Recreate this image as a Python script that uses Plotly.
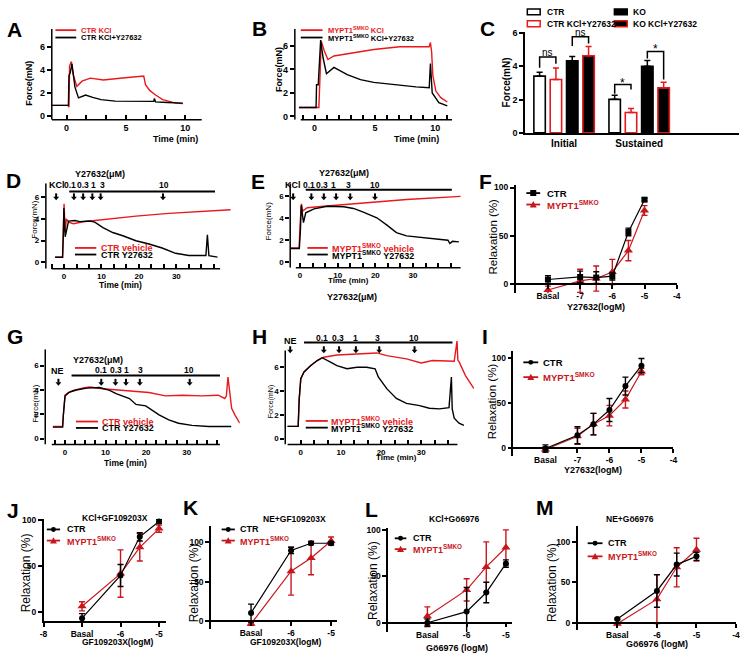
import plotly.graph_objects as go

W, H = 745, 660
FONT = "Arial, Liberation Sans, sans-serif"
RED = "#e8191c"
DRED = "#c8161d"

# ---------------- data ----------------
# A: CTR, KCl vs KCl+Y27632 (time in min, force in mN)
a_t_kcl = [-1.25, 0.1, 0.2, 0.25, 0.4, 0.55, 0.86, 1.3, 2.0, 3.1, 4.5, 6.4, 6.5, 6.65, 7.0, 7.5, 8.1, 9.2, 9.8]
a_f_kcl = [0.9, 0.9, 0.75, 4.3, 4.7, 3.6, 2.55, 3.0, 3.26, 3.1, 3.25, 3.45, 3.45, 2.7, 2.2, 1.8, 1.4, 1.1, 1.05]
a_t_y = [-1.25, 0.15, 0.2, 0.3, 0.45, 0.7, 1.0, 1.6, 2.2, 2.9, 4.1, 5.5, 7.35, 7.4, 7.5, 8.5, 9.8]
a_f_y = [0.9, 0.9, 3.5, 3.7, 4.5, 2.5, 1.55, 1.8, 1.6, 1.4, 1.27, 1.25, 1.25, 1.5, 1.2, 1.15, 1.1]

# B: MYPT1 SMKO
b_t_kcl = [-1.3, 0.35, 0.45, 0.55, 0.8, 1.1, 1.6, 2.95, 4.9, 7.05, 9.5, 9.6, 9.7, 9.8, 10.05, 10.46, 11.0]
b_f_kcl = [0.76, 0.76, 3.5, 6.4, 5.6, 4.85, 5.15, 5.38, 5.7, 5.94, 5.94, 6.3, 5.5, 3.5, 2.16, 1.6, 1.23]
b_t_y = [-1.3, 0.12, 0.16, 0.3, 0.5, 0.7, 0.98, 1.6, 2.7, 3.8, 4.9, 6.5, 8.4, 9.5, 9.6, 9.75, 10.3, 11.0]
b_f_y = [0.76, 0.76, 2.7, 2.7, 6.5, 5.0, 3.64, 4.18, 3.56, 3.13, 2.9, 2.7, 2.52, 2.44, 4.5, 2.0, 1.18, 0.9]

# C: bar chart
c_groups = ["Initial", "Sustained"]
c_ctr = [3.4, 2.01]
c_ctr_err = [0.23, 0.24]
c_ctr_y = [3.2, 1.22]
c_ctr_y_err = [0.69, 0.24]
c_ko = [4.32, 3.99]
c_ko_err = [0.26, 0.35]
c_ko_y = [4.62, 2.7]
c_ko_y_err = [0.55, 0.34]

# D: CTR, KCl then cumulative Y27632
d_t_veh = [-2.4, -0.4, -0.2, 0.0, 0.3, 0.6, 1.2, 2.5, 5.1, 10.4, 19.2, 28.0, 36.9, 44.5]
d_f_veh = [0.46, 0.46, 3.0, 5.4, 2.8, 4.0, 3.7, 3.56, 3.74, 3.96, 4.26, 4.51, 4.72, 4.85]
d_t_y = [-2.4, -0.4, -0.2, -0.05, 0.3, 1.2, 2.9, 4.2, 6.9, 8.2, 10.4, 13.0, 15.7, 19.2, 22.7, 26.2, 29.8,
         33.3, 37.9, 38.3, 38.7, 41.0]
d_f_y = [0.46, 0.46, 2.5, 5.0, 2.35, 3.8, 3.85, 3.75, 3.8, 3.7, 3.2, 2.74, 2.44, 1.98, 1.68, 1.31, 0.82,
         0.61, 0.61, 2.53, 0.6, 0.46]

# E: MYPT1 SMKO, KCl then cumulative Y27632
e_t_veh = [-2.6, -0.26, 0.0, 0.36, 0.7, 1.9, 6.3, 12.5, 19.5, 28.3, 42.7]
e_f_veh = [1.3, 1.3, 3.5, 5.32, 4.66, 4.96, 5.1, 5.26, 5.47, 5.71, 6.0]
e_t_y = [-2.6, -0.2, 0.1, 0.3, 0.9, 1.5, 3.7, 7.2, 11.6, 14.2, 16.8, 20.4, 23.0, 25.6, 28.3, 33.5, 38.8,
         39.3, 39.8, 40.5, 42.2]
e_f_y = [1.25, 1.25, 3.0, 5.2, 3.6, 4.5, 4.86, 5.1, 5.05, 4.9, 4.57, 4.05, 3.4, 2.7, 2.4, 2.2, 2.02,
         2.0, 1.7, 1.9, 1.85]

# G: CTR, NE then cumulative Y27632
g_t_veh = [-3.0, -0.6, -0.4, 0.0, 0.8, 2.0, 4.5, 6.1, 9.3, 12.6, 17.5, 20.7, 24.8, 28.9, 33.7, 37.8, 39.4,
           39.8, 40.2, 41.1, 41.9, 43.1]
g_f_veh = [1.0, 1.0, 2.0, 3.57, 3.79, 3.97, 4.16, 4.24, 4.1, 4.0, 3.87, 3.79, 3.52, 3.57, 3.52, 3.57, 3.3,
           3.5, 5.06, 2.49, 1.95, 1.27]
g_t_y = [-3.0, -0.6, -0.4, 0.0, 1.0, 2.8, 5.3, 8.5, 11.0, 12.6, 15.9, 17.5, 19.9, 21.5, 23.2, 25.6, 28.0,
         31.3, 35.4, 41.0]
g_f_y = [0.95, 0.95, 2.0, 3.5, 3.8, 4.0, 4.15, 4.2, 3.97, 3.7, 3.3, 2.81, 2.7, 2.35, 1.95, 1.54, 1.27,
         1.09, 1.0, 1.0]

# H: MYPT1 SMKO, NE then cumulative Y27632
h_t_veh = [-3.3, -0.65, -0.4, 0.0, 0.8, 2.5, 4.1, 5.7, 9.0, 13.1, 18.9, 21.4, 26.3, 30.0, 32.8, 38.2, 38.9,
           39.1, 39.4, 41.0, 43.1]
h_f_veh = [1.03, 1.03, 3.3, 5.04, 5.6, 6.14, 6.56, 6.84, 7.03, 7.1, 7.2, 6.97, 6.7, 6.36, 6.56, 6.5, 8.2,
           6.6, 6.47, 5.3, 4.2]
h_t_y = [-3.3, -0.65, -0.4, 0.0, 0.8, 2.5, 4.1, 5.3, 7.4, 9.0, 11.5, 14.0, 16.4, 18.5, 19.3, 21.4, 23.8,
         26.3, 29.6, 32.0, 34.5, 36.9, 37.5, 37.7, 38.2, 39.4, 40.6]
h_f_y = [1.03, 1.03, 3.3, 5.04, 5.6, 6.14, 6.56, 6.8, 6.42, 6.14, 5.87, 6.0, 6.0, 5.87, 5.18, 4.2, 3.38,
         2.96, 2.77, 2.55, 2.5, 2.6, 5.18, 2.5, 1.72, 1.3, 1.11]

# dose-response (log M; basal plotted one decade below the lowest dose)
fi_dose = [-8, -7, -6.5, -6, -5.5, -5]
f_ctr = [4.8, 7.4, 6.8, 8.2, 54, 87.4]
f_ctr_err = [4, 6, 6, 4, 4, 1.5]
f_ko = [-6.1, 3.4, 5.8, 12.6, 34.7, 76.2]
f_ko_err = [4, 12, 13, 13, 10.5, 5]
i_ctr = [-0.7, 14, 26.5, 42.3, 69.1, 91.9]
i_ctr_err = [4, 9.5, 12, 12.8, 10, 8]
i_ko = [-1.8, 12.9, 26.5, 36, 54, 85.3]
i_ko_err = [3, 9, 12, 11.5, 9.5, 3.5]

jm_dose = [-7, -6, -5.5, -5]
j_ctr = [-7.2, 39.6, 82, 98.9]
j_ctr_err = [5, 12, 4.5, 2]
j_ko = [5.8, 41.7, 70.5, 91]
j_ko_err = [5, 26, 15, 4]
k_ctr = [10.7, 88.9, 97.9, 97.9]
k_ctr_err = [11, 4, 2, 2]
k_ko = [-2.9, 63, 79.4, 100.8]
k_ko_err = [2, 30, 21, 5]
l_ctr = [0, 12, 32.6, 63.8]
l_ctr_err = [4, 26, 11, 4]
l_ko = [7.1, 35.4, 60.2, 81.2]
l_ko_err = [10, 12, 27, 19]
m_ctr = [5.2, 39.5, 71.8, 81.9]
m_ctr_err = [1, 20, 14, 5]
m_ko = [-0.8, 29.4, 68.5, 90]
m_ko_err = [1, 30, 24, 14]

# dose labels above the traces
y_doses = ["0.1", "0.3", "1", "3", "10"]
force_ticks = [0, 2, 4, 6]
relax_ticks = [0, 50, 100]

# ---------------- helpers ----------------
fig = go.Figure()
axes = {}
shapes = []
anns = []


def ids(i):
    s = "" if i == 1 else str(i)
    return "x" + s, "y" + s, "xaxis" + s, "yaxis" + s


def dx(l, r):
    return [l / W, r / W]


def dy(b, t):
    return [1 - b / H, 1 - t / H]


def tfont(size=9, bold=True):
    return dict(family=FONT, size=size, color="black", weight="bold" if bold else "normal")


def txt(x, y, s, size=9, color="black", bold=True, angle=0, xanchor="center"):
    anns.append(dict(x=x / W, y=1 - y / H, xref="paper", yref="paper", text=s, showarrow=False,
                     font=dict(family=FONT, size=size, color=color, weight="bold" if bold else "normal"),
                     textangle=angle, xanchor=xanchor, yanchor="middle"))


def pline(x0, y0, x1, y1, color="black", width=1.5):
    shapes.append(dict(type="line", xref="paper", yref="paper", x0=x0 / W, y0=1 - y0 / H,
                       x1=x1 / W, y1=1 - y1 / H, line=dict(color=color, width=width)))


def prect(x0, y0, x1, y1, fill, line):
    shapes.append(dict(type="rect", xref="paper", yref="paper", x0=x0 / W, y0=1 - y0 / H,
                       x1=x1 / W, y1=1 - y1 / H, fillcolor=fill, line=dict(color=line, width=1.5)))


def ppath(pts, fill):
    p = "M " + " L ".join("%f,%f" % (x / W, 1 - y / H) for x, y in pts) + " Z"
    shapes.append(dict(type="path", xref="paper", yref="paper", path=p, fillcolor=fill, line=dict(width=0)))


def arrow(x, ytip):
    # small filled down arrow: stem + head
    pline(x, ytip - 7, x, ytip - 3, "black", 2)
    ppath([(x - 3, ytip - 3.5), (x + 3, ytip - 3.5), (x, ytip)], "black")


def leg(x0, x1, y, color, text, tx, size=9, marker=None):
    pline(x0, y, x1, y, color, 1.8)
    cx = (x0 + x1) / 2
    if marker == "square":
        prect(cx - 2.3, y - 2.3, cx + 2.3, y + 2.3, color, color)
    elif marker == "circle":
        shapes.append(dict(type="circle", xref="paper", yref="paper", x0=(cx - 2.5) / W, x1=(cx + 2.5) / W,
                           y0=1 - (y + 2.5) / H, y1=1 - (y - 2.5) / H, fillcolor=color, line=dict(width=0)))
    elif marker == "triangle":
        ppath([(cx - 3.5, y + 3), (cx + 3.5, y + 3), (cx, y - 3.5)], color)
    txt(tx, y, text, size=size, color=color, xanchor="left")


def force_panel(i, xpx, ypx, xr, yr, xline, yline, xtv, minor_tv, ysize=9):
    xa, ya, xk, yk = ids(i)
    axes[xk] = dict(domain=dx(*xpx), range=xr, anchor=ya, showline=False, showgrid=False, zeroline=False,
                    tickvals=xtv, ticks="inside", ticklen=5, tickwidth=1.5, tickcolor="black",
                    tickfont=tfont(ysize), ticklabelstandoff=1,
                    minor=dict(tickvals=minor_tv, ticks="inside", ticklen=5, tickwidth=1.5, tickcolor="black"))
    axes[yk] = dict(domain=dy(*ypx), range=yr, anchor=xa, showline=False, showgrid=False, zeroline=False,
                    tickvals=force_ticks, ticks="outside", ticklen=4, tickwidth=1.5, tickcolor="black",
                    tickfont=tfont(ysize))
    shapes.append(dict(type="line", xref=xa, yref=ya + " domain", x0=xline[0], x1=xline[1], y0=0, y1=0,
                       line=dict(color="black", width=1.5)))
    shapes.append(dict(type="line", xref=xa + " domain", yref=ya, x0=0, x1=0, y0=yline[0], y1=yline[1],
                       line=dict(color="black", width=1.5)))


def force_trace(i, t, f, color):
    xa, ya, _, _ = ids(i)
    fig.add_trace(go.Scatter(x=t, y=f, mode="lines", line=dict(color=color, width=1.4),
                             xaxis=xa, yaxis=ya, showlegend=False))


def dose_panel(i, xpx, ypx, xr, yr, tv, tt, zero_px=None):
    xa, ya, xk, yk = ids(i)
    xd = dict(domain=dx(*xpx), range=xr, showline=True, linecolor="black", linewidth=1.5, showgrid=False,
              zeroline=False, tickvals=tv, ticktext=tt, ticks="outside", ticklen=4, tickwidth=1.5,
              tickcolor="black", tickfont=tfont(8.5))
    if zero_px is None:
        xd.update(anchor=ya)
    else:
        xd.update(anchor="free", position=1 - zero_px / H)
    axes[xk] = xd
    axes[yk] = dict(domain=dy(*ypx), range=yr, anchor=xa, showline=True, linecolor="black", linewidth=1.5,
                    showgrid=False, zeroline=False, tickvals=relax_ticks, ticks="outside", ticklen=4,
                    tickwidth=1.5, tickcolor="black", tickfont=tfont(8.5))


def dose_trace(i, x, y, err, color, symbol, size):
    xa, ya, _, _ = ids(i)
    fig.add_trace(go.Scatter(x=x, y=y, mode="lines+markers", line=dict(color=color, width=1.2),
                             marker=dict(symbol=symbol, size=size, color=color),
                             error_y=dict(type="data", array=err, color=color, thickness=1.4, width=3),
                             xaxis=xa, yaxis=ya, showlegend=False, cliponaxis=False))


# ---------------- A ----------------
force_panel(1, (48.3, 200), (117.3, 25), [-1.25, 11.4], [-0.34, 7.55], [-1.25, 11.4], [-0.34, 7.55],
            [0, 5, 10], [k * 5 / 3 for k in range(0, 7)])
force_trace(1, a_t_kcl, a_f_kcl, RED)
force_trace(1, a_t_y, a_f_y, "black")
leg(52, 73, 26.5, RED, "CTR KCl", 76, 7.5)
leg(52, 73, 34, "black", "CTR KCl+Y27632", 76, 7.5)
txt(25, 80, "Force(mN)", 9, angle=-90)
txt(173, 137, "Time (min)", 9)

# ---------------- B ----------------
force_panel(2, (294, 453), (117.3, 25), [-1.64, 11.4], [-0.28, 7.48], [-1.15, 11.4], [-0.28, 7.48],
            [0, 5, 10], list(range(-1, 12)))
force_trace(2, b_t_kcl, b_f_kcl, RED)
force_trace(2, b_t_y, b_f_y, "black")
leg(300, 322, 26.5, RED, "MYPT1<sup>SMKO</sup> KCl", 325, 7.5)
leg(300, 322, 34, "black", "MYPT1<sup>SMKO</sup> KCl+Y27632", 325, 7.5)
txt(278, 67, "Force(mN)", 9, angle=-90)
txt(417, 137, "Time (min)", 9)

# ---------------- C ----------------
axes["xaxis3"] = dict(domain=dx(526.7, 743), range=[-0.52, 2.33], anchor="y3", showline=True,
                      linecolor="black", linewidth=1.5, showgrid=False, zeroline=False, ticks="",
                      tickfont=tfont(10))
axes["yaxis3"] = dict(domain=dy(130.7, 28.3), range=[0, 6.05], anchor="x3", showline=True, linecolor="black",
                      linewidth=1.5, showgrid=False, zeroline=False, tickvals=[0, 2, 4, 6], ticks="outside",
                      ticklen=4, tickwidth=1.5, tickcolor="black", tickfont=tfont(9))
bar_specs = [
    ("CTR", c_ctr, c_ctr_err, "white", "black", "black"),
    ("CTR KCl+Y27632", c_ctr_y, c_ctr_y_err, "white", RED, RED),
    ("KO", c_ko, c_ko_err, "black", "black", "black"),
    ("KO KCl+Y27632", c_ko_y, c_ko_y_err, "black", RED, RED),
]
for name, vals, err, fill, edge, ecol in bar_specs:
    fig.add_trace(go.Bar(x=c_groups, y=vals, name=name, marker=dict(color=fill, line=dict(color=edge, width=1.6)),
                         error_y=dict(type="data", array=err, arrayminus=[0, 0], symmetric=False, color=ecol,
                                      thickness=1.5, width=3),
                         xaxis="x3", yaxis="y3", showlegend=False))
off = [-0.326, -0.109, 0.109, 0.326]
brackets = [(0 + off[0], 0 + off[1], 4.54, 3.9, 4.15, "ns", 4.83),
            (0 + off[2], 0 + off[3], 5.76, 5.2, 5.35, "ns", 6.0),
            (1 + off[0], 1 + off[1], 2.9, 2.35, 2.6, "*", 3.02),
            (1 + off[2], 1 + off[3], 4.88, 4.45, 3.2, "*", 5.0)]
for xl, xr_, top, bl, br, lab, ty in brackets:
    shapes.append(dict(type="path", xref="x3", yref="y3",
                       path="M %f,%f L %f,%f L %f,%f L %f,%f" % (xl, bl, xl, top, xr_, top, xr_, br),
                       line=dict(color="black", width=1.5)))
    anns.append(dict(x=(xl + xr_) / 2, y=ty, xref="x3", yref="y3", text=lab, showarrow=False,
                     yanchor="middle", font=dict(family=FONT, size=10 if lab == "ns" else 12, color="black")))
prect(529, 5, 542, 11, "white", "black")
txt(547, 8, "CTR", 8.5, xanchor="left")
prect(529, 17, 542, 23, "white", RED)
txt(547, 20, "CTR KCl+Y27632", 8.5, xanchor="left")
prect(617, 5, 630, 11, "black", "black")
txt(634, 8, "KO", 8.5, xanchor="left")
prect(617, 17, 630, 23, "black", RED)
txt(634, 20, "KO KCl+Y27632", 8.5, xanchor="left")
txt(508, 80, "Force(mN)", 10, angle=-90)

# ---------------- D ----------------
force_panel(4, (42.3, 231.7), (268.3, 181.7), [-4.87, 45.2], [-0.6, 7.3], [-3.3, 41.7], [-0.6, 7.3],
            [0, 10, 20, 30], [k * 10 / 3 for k in range(-1, 13)], 8)
force_trace(4, d_t_veh, d_f_veh, RED)
force_trace(4, d_t_y, d_f_y, "black")
leg(71.7, 93.3, 247.3, RED, "CTR vehicle", 96, 9)
leg(71.7, 93.3, 254, "black", "CTR Y27632", 96, 9)
txt(30, 218, "Force(mN)", 8, bold=False, angle=-90)
txt(118, 285, "Time (min)", 8.5)
txt(97, 172.7, "Y27632(μM)", 9)
pline(66, 190, 213.3, 190, "black", 2)
txt(53.3, 184, "KCl", 9)
for x, s in zip([66.7, 80, 90, 99.3, 161.7], y_doses):
    txt(x, 184, s, 8.5)
for x in [52.7, 70.7, 80, 89.3, 97.7, 160.7]:
    arrow(x, 199)

# ---------------- E ----------------
force_panel(5, (289.3, 461.7), (267.3, 181.7), [-2.63, 42.7], [-0.5, 7.2], [-1.13, 42.7], [-0.5, 7.2],
            [0, 10, 20, 30], [k * 10 / 3 for k in range(0, 13)], 8)
force_trace(5, e_t_veh, e_f_veh, RED)
force_trace(5, e_t_y, e_f_y, "black")
leg(306.7, 327.3, 247.3, RED, "MYPT1<sup>SMKO</sup> vehicle", 330, 9)
leg(306.7, 327.3, 254, "black", "MYPT1<sup>SMKO</sup> Y27632", 330, 9)
txt(268.3, 220, "Force(mN)", 8, bold=False, angle=-90)
txt(348.3, 280, "Time (min)", 8)
txt(343.3, 171.7, "Y27632(μM)", 9)
txt(351.7, 297, "Y27632(μM)", 9)
pline(305, 188.3, 452.7, 188.3, "black", 2)
txt(291.7, 184, "KCl", 9)
for x, s in zip([308.3, 321, 333.3, 348.3, 375], y_doses):
    txt(x, 184, s, 8.5)
for x in [292.3, 310.7, 323.3, 335.7, 350, 375]:
    arrow(x, 199)

# ---------------- F ----------------
dose_panel(6, (517.3, 680), (293.3, 183.3), [-9.0, -4], [-9.5, 102.8], [-8, -7, -6, -5, -4],
           ["Basal", "-7", "-6", "-5", "-4"], zero_px=284)
dose_trace(6, fi_dose, f_ko, f_ko_err, DRED, "triangle-up", 8)
dose_trace(6, fi_dose, f_ctr, f_ctr_err, "black", "square", 6)
leg(528, 542, 191.7, "black", "CTR", 546.7, 9.5, "square")
leg(528, 542, 203.3, DRED, "MYPT1<sup>SMKO</sup>", 546.7, 9.5, "triangle")
txt(494, 236, "Relaxation (%)", 11.5, bold=False, angle=-90)
txt(598.3, 307, "Y27632(logM)", 9)

# ---------------- G ----------------
force_panel(7, (41.7, 238.3), (446.7, 350), [-4.88, 43.1], [-0.49, 7.35], [-3.27, 38.2], [-0.49, 7.35],
            [0, 10, 20, 30], [k * 2.5 for k in range(-1, 16)], 8)
force_trace(7, g_t_veh, g_f_veh, RED)
force_trace(7, g_t_y, g_f_y, "black")
leg(72.7, 95, 423.3, RED, "CTR vehicle", 97, 9)
leg(72.7, 95, 429.8, "black", "CTR Y27632", 97, 9)
txt(31.7, 405, "Force(mN)", 8, bold=False, angle=-90)
txt(123.3, 465, "Time (min)", 8.5)
txt(95, 360.7, "Y27632(μM)", 9)
pline(68.3, 376.7, 218.3, 376.7, "black", 2)
txt(54.3, 371.7, "NE", 9)
for x, s in zip([98.3, 113.3, 124, 137.7, 186.7], y_doses):
    txt(x, 371.5, s, 8.5)
for x in [55, 98.3, 112.7, 123.3, 137.3, 187.7]:
    arrow(x, 387)

# ---------------- H ----------------
force_panel(8, (284.3, 475), (446.7, 341.7), [-3.87, 43.1], [-0.5, 8.2], [-3.28, 39.0], [-0.5, 7.4],
            [0, 10, 20, 30], [k * 10 / 3 for k in range(-0, 12)], 8)
force_trace(8, h_t_veh, h_f_veh, RED)
force_trace(8, h_t_y, h_f_y, "black")
leg(305, 327.3, 422.7, RED, "MYPT1<sup>SMKO</sup> vehicle", 329, 9)
leg(305, 327.3, 429.5, "black", "MYPT1<sup>SMKO</sup> Y27632", 329, 9)
txt(269.3, 403.3, "Force(mN)", 7, bold=False, angle=-90)
txt(397, 460, "Time (min)", 8)
pline(303.3, 343.3, 453.3, 343.3, "black", 2)
txt(289.3, 342, "NE", 9)
for x, s in zip([321.7, 337.3, 355, 377.3, 414], y_doses):
    txt(x, 338.3, s, 8.5)
for x in [289.3, 323.3, 338.7, 355.7, 379.3, 415]:
    arrow(x, 354)

# ---------------- I ----------------
dose_panel(9, (515, 676.7), (458.3, 351.7), [-9.0, -4], [-9.2, 108.4], [-8, -7, -6, -5, -4],
           ["Basal", "-7", "-6", "-5", "-4"], zero_px=450)
dose_trace(9, fi_dose, i_ko, i_ko_err, DRED, "triangle-up", 8)
dose_trace(9, fi_dose, i_ctr, i_ctr_err, "black", "circle", 6)
leg(525, 540, 363.3, "black", "CTR", 543.3, 9.5, "circle")
leg(525, 540, 378.3, DRED, "MYPT1<sup>SMKO</sup>", 543.3, 9.5, "triangle")
txt(493, 403, "Relaxation (%)", 11.5, bold=False, angle=-90)
txt(595, 472, "Y27632(logM)", 9)

# ---------------- J ----------------
dose_panel(10, (40, 163.3), (626, 521.7), [-8, -4.83], [-10.8, 102], [-8, -7, -6, -5],
           ["-8", "Basal", "-6", "-5"])
dose_trace(10, jm_dose, j_ko, j_ko_err, DRED, "triangle-up", 8)
dose_trace(10, jm_dose, j_ctr, j_ctr_err, "black", "circle", 6)
leg(43.3, 56.7, 532.7, "black", "CTR", 61.7, 9, "circle")
leg(43.3, 56.7, 544, DRED, "MYPT1<sup>SMKO</sup>", 61.7, 9, "triangle")
txt(111.7, 521, "KCl+GF109203X", 8.5)
txt(21.7, 576.7, "Relaxation (%)", 12, bold=False, angle=-90)
txt(115, 647, "GF109203X(logM)", 8.5)

# ---------------- K ----------------
dose_panel(11, (209.3, 336.7), (633.3, 529.3), [-8, -4.85], [-9, 119.4], [-7, -6, -5],
           ["Basal", "-6", "-5"], zero_px=626)
dose_trace(11, jm_dose, k_ko, k_ko_err, DRED, "triangle-up", 8)
dose_trace(11, jm_dose, k_ctr, k_ctr_err, "black", "circle", 6)
leg(220, 233.3, 532.7, "black", "CTR", 236.7, 9, "circle")
leg(220, 233.3, 544, DRED, "MYPT1<sup>SMKO</sup>", 236.7, 9, "triangle")
txt(293.3, 521.7, "NE+GF109203X", 8.5)
txt(191.7, 586.7, "Relaxation (%)", 12, bold=False, angle=-90)
txt(285, 647, "GF109203X(logM)", 8.5)

# ---------------- L ----------------
dose_panel(12, (388.3, 513.3), (636.7, 531.7), [-8, -4.85], [-10, 101.7], [-7, -6, -5],
           ["Basal", "-6", "-5"], zero_px=627.3)
dose_trace(12, jm_dose, l_ko, l_ko_err, DRED, "triangle-up", 8)
dose_trace(12, jm_dose, l_ctr, l_ctr_err, "black", "circle", 6)
leg(395, 406.7, 541.7, "black", "CTR", 411.7, 9, "circle")
leg(395, 406.7, 552.7, DRED, "MYPT1<sup>SMKO</sup>", 411.7, 9, "triangle")
txt(455, 521.7, "KCl+Gö6976", 8.5)
txt(373, 584, "Relaxation (%)", 12, bold=False, angle=-90)
txt(458.3, 653, "Gö6976 (logM)", 9)

# ---------------- M ----------------
dose_panel(13, (580, 740), (635, 529.3), [-8, -4], [-8.8, 119], [-7, -6, -5, -4],
           ["Basal", "-6", "-5", "-4"], zero_px=627.7)
dose_trace(13, jm_dose, m_ko, m_ko_err, DRED, "triangle-up", 8)
dose_trace(13, jm_dose, m_ctr, m_ctr_err, "black", "circle", 6)
leg(590, 605, 546.7, "black", "CTR", 608.3, 9, "circle")
leg(590, 605, 560, DRED, "MYPT1<sup>SMKO</sup>", 608.3, 9, "triangle")
txt(633.3, 521.7, "NE+Gö6976", 8.5)
txt(553.3, 586.7, "Relaxation (%)", 12, bold=False, angle=-90)
txt(660, 649, "Gö6976 (logM)", 9)

# ---------------- panel letters ----------------
for lab, x, y in [("A", 10.5, 25.5), ("B", 258, 25), ("C", 489, 25), ("D", 10, 179), ("E", 257, 180),
                  ("F", 487, 180), ("G", 11, 337.5), ("H", 258, 337), ("I", 486, 337), ("J", 9, 513),
                  ("K", 188.5, 510), ("L", 371, 512), ("M", 546.7, 510)]:
    txt(x, y, lab, 21)

fig.update_layout(width=W, height=H, margin=dict(l=0, r=0, t=0, b=0), paper_bgcolor="white",
                  plot_bgcolor="rgba(0,0,0,0)", showlegend=False, barmode="group", bargap=0.13,
                  bargroupgap=0.3, shapes=shapes, annotations=anns, font=dict(family=FONT), **axes)

# page body margin removed so the figure sits at the window's top-left corner
fig.write_html("out.html", config={"displayModeBar": False},
               post_script="document.body.style.margin='0px';")
